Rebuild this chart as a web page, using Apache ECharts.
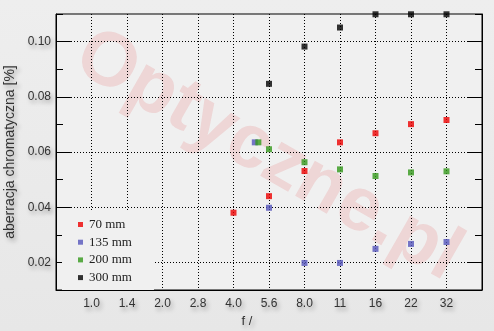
<!DOCTYPE html>
<html>
<head>
<meta charset="utf-8">
<script src="https://cdn.jsdelivr.net/npm/echarts@6/dist/echarts.min.js"></script>
<style>
html,body{margin:0;padding:0;background:#ebebeb;}
#c{width:494px;height:331px;}
</style>
</head>
<body>
<div id="c"></div>
<script>
// f-number tick labels (placed at positions 1..11 on the x scale)
const fLabels = ['1.0','1.4','2.0','2.8','4.0','5.6','8.0','11','16','22','32'];
// y tick values with grid lines / labels
const yTicks = [0.02, 0.04, 0.06, 0.08, 0.10];

// series: x = position on f-number scale, y = aberration [%]
const x70  = [5, 6, 7, 8, 9, 10, 11];
const y70  = [0.0380, 0.0440, 0.0531, 0.0635, 0.0668, 0.0701, 0.0716];
const x135 = [5.6, 6, 7, 8, 9, 10, 11];
const y135 = [0.0635, 0.0398, 0.0198, 0.0198, 0.0249, 0.0267, 0.0274];
const x200 = [5.7, 6, 7, 8, 9, 10, 11];
const y200 = [0.0635, 0.0610, 0.0563, 0.0537, 0.0513, 0.0526, 0.0530];
const x300 = [6, 7, 8, 9, 10, 11];
const y300 = [0.0847, 0.0982, 0.1051, 0.1099, 0.1099, 0.1099];

const names = ['70 mm', '135 mm', '200 mm', '300 mm'];
const colors = ['#ee0000', '#5555bb', '#33991a', '#000000'];

function pairs(xs, ys){ return xs.map((x,i)=>[x, ys[i]]); }

const shadow = {textShadowColor:'rgba(0,0,0,0.35)', textShadowBlur:4, textShadowOffsetX:2, textShadowOffsetY:3};

const chart = echarts.init(document.getElementById('c'), null, {renderer:'canvas'});
const seriesData = [pairs(x70,y70), pairs(x135,y135), pairs(x200,y200), pairs(x300,y300)];

const series = names.map((n,i)=>({
  name: n, type: 'scatter', symbol: 'rect', symbolSize: 6, clip: false, z: 5,
  itemStyle: {color: colors[i]}, data: seriesData[i]
}));

series.push({
  name: 'grid', type: 'scatter', data: [], z: 3, silent: true,
  markLine: {
    silent: true, symbol: 'none', animation: false, label: {show:false},
    data: [
      ...yTicks.map(v=>({yAxis: v, lineStyle:{color:'#000', width:1, type:[1,2]}})),
      ...yTicks.map(v=>[{coord:[0, v], lineStyle:{color:'#000', width:1, type:'solid'}}, {coord:[0.42, v]}]),
      ...yTicks.map(v=>[{coord:[11.58, v], lineStyle:{color:'#000', width:1, type:'solid'}}, {coord:[12, v]}])
    ]
  }
});

chart.setOption({
  animation: false,
  backgroundColor: new echarts.graphic.LinearGradient(0,0,0,1,[{offset:0,color:'#eeeeee'},{offset:1,color:'#e7e7e7'}]),
  grid: {left:56, top:14, right:12, bottom:41, outerBoundsMode:'none', containLabel:false,
         show:true, backgroundColor:'#f0f0f0', borderColor:'#000', borderWidth:1},
  graphic: [{
    type:'text', z: 1, silent: true,
    x: 268, y: 156, rotation: -0.52,
    style: {text:'Optyczne.pl', font:'bold 76px "Liberation Sans", Arial', fill:'rgba(225,40,40,0.13)', align:'center', verticalAlign:'middle',
            shadowColor:'rgba(0,0,0,0.1)', shadowBlur:5, shadowOffsetX:4, shadowOffsetY:4}
  }],
  legend: {
    data: names, orient:'vertical', left: 62, top: 212, icon:'rect', itemWidth:5, itemHeight:5, itemGap:4.7,
    padding:[6,22,6,16], backgroundColor:'#f0f0f0', z: 10,
    textStyle:{fontFamily:'"Liberation Serif", serif', fontSize:13, color:'#222', lineHeight:13, padding:[0,0,0,1]}
  },
  xAxis: {
    type:'value', min:0, max:12, interval:1, z: 2,
    name:'f /', nameLocation:'middle', nameGap:25,
    nameTextStyle:{fontFamily:'"Liberation Sans", Arial', fontSize:13, color:'#333', padding:[0,44,0,0], ...shadow},
    axisLine:{show:true, lineStyle:{color:'#000'}},
    axisTick:{show:false},
    splitLine:{show:true, lineStyle:{color:'#000', width:1, type:[1,2]}},
    axisLabel:{margin:8, fontFamily:'"Liberation Sans", Arial', fontSize:12, color:'#333',
      formatter: v => fLabels[Math.round(v)-1] || '', ...shadow}
  },
  yAxis: [{
    type:'value', min:0.01, max:0.11, interval:0.01, position:'left',
    name:'aberracja chromatyczna [%]', nameLocation:'middle', nameGap:34,
    nameTextStyle:{fontFamily:'"Liberation Sans", Arial', fontSize:14, color:'#333', ...shadow},
    axisLine:{show:true, lineStyle:{color:'#000'}},
    axisTick:{show:true, inside:true, length:7, lineStyle:{color:'#000'}},
    splitLine:{show:false},
    axisLabel:{margin:5, fontFamily:'"Liberation Sans", Arial', fontSize:12, color:'#333', ...shadow,
      formatter: v => yTicks.some(t=>Math.abs(t-v)<1e-6) ? v.toFixed(2) : ''}
  },{
    type:'value', min:0.01, max:0.11, interval:0.01, position:'right',
    axisLine:{show:true, lineStyle:{color:'#000'}},
    axisTick:{show:true, inside:true, length:7, lineStyle:{color:'#000'}},
    splitLine:{show:false}, axisLabel:{show:false}
  }],
  series: series
});
</script>
</body>
</html>
